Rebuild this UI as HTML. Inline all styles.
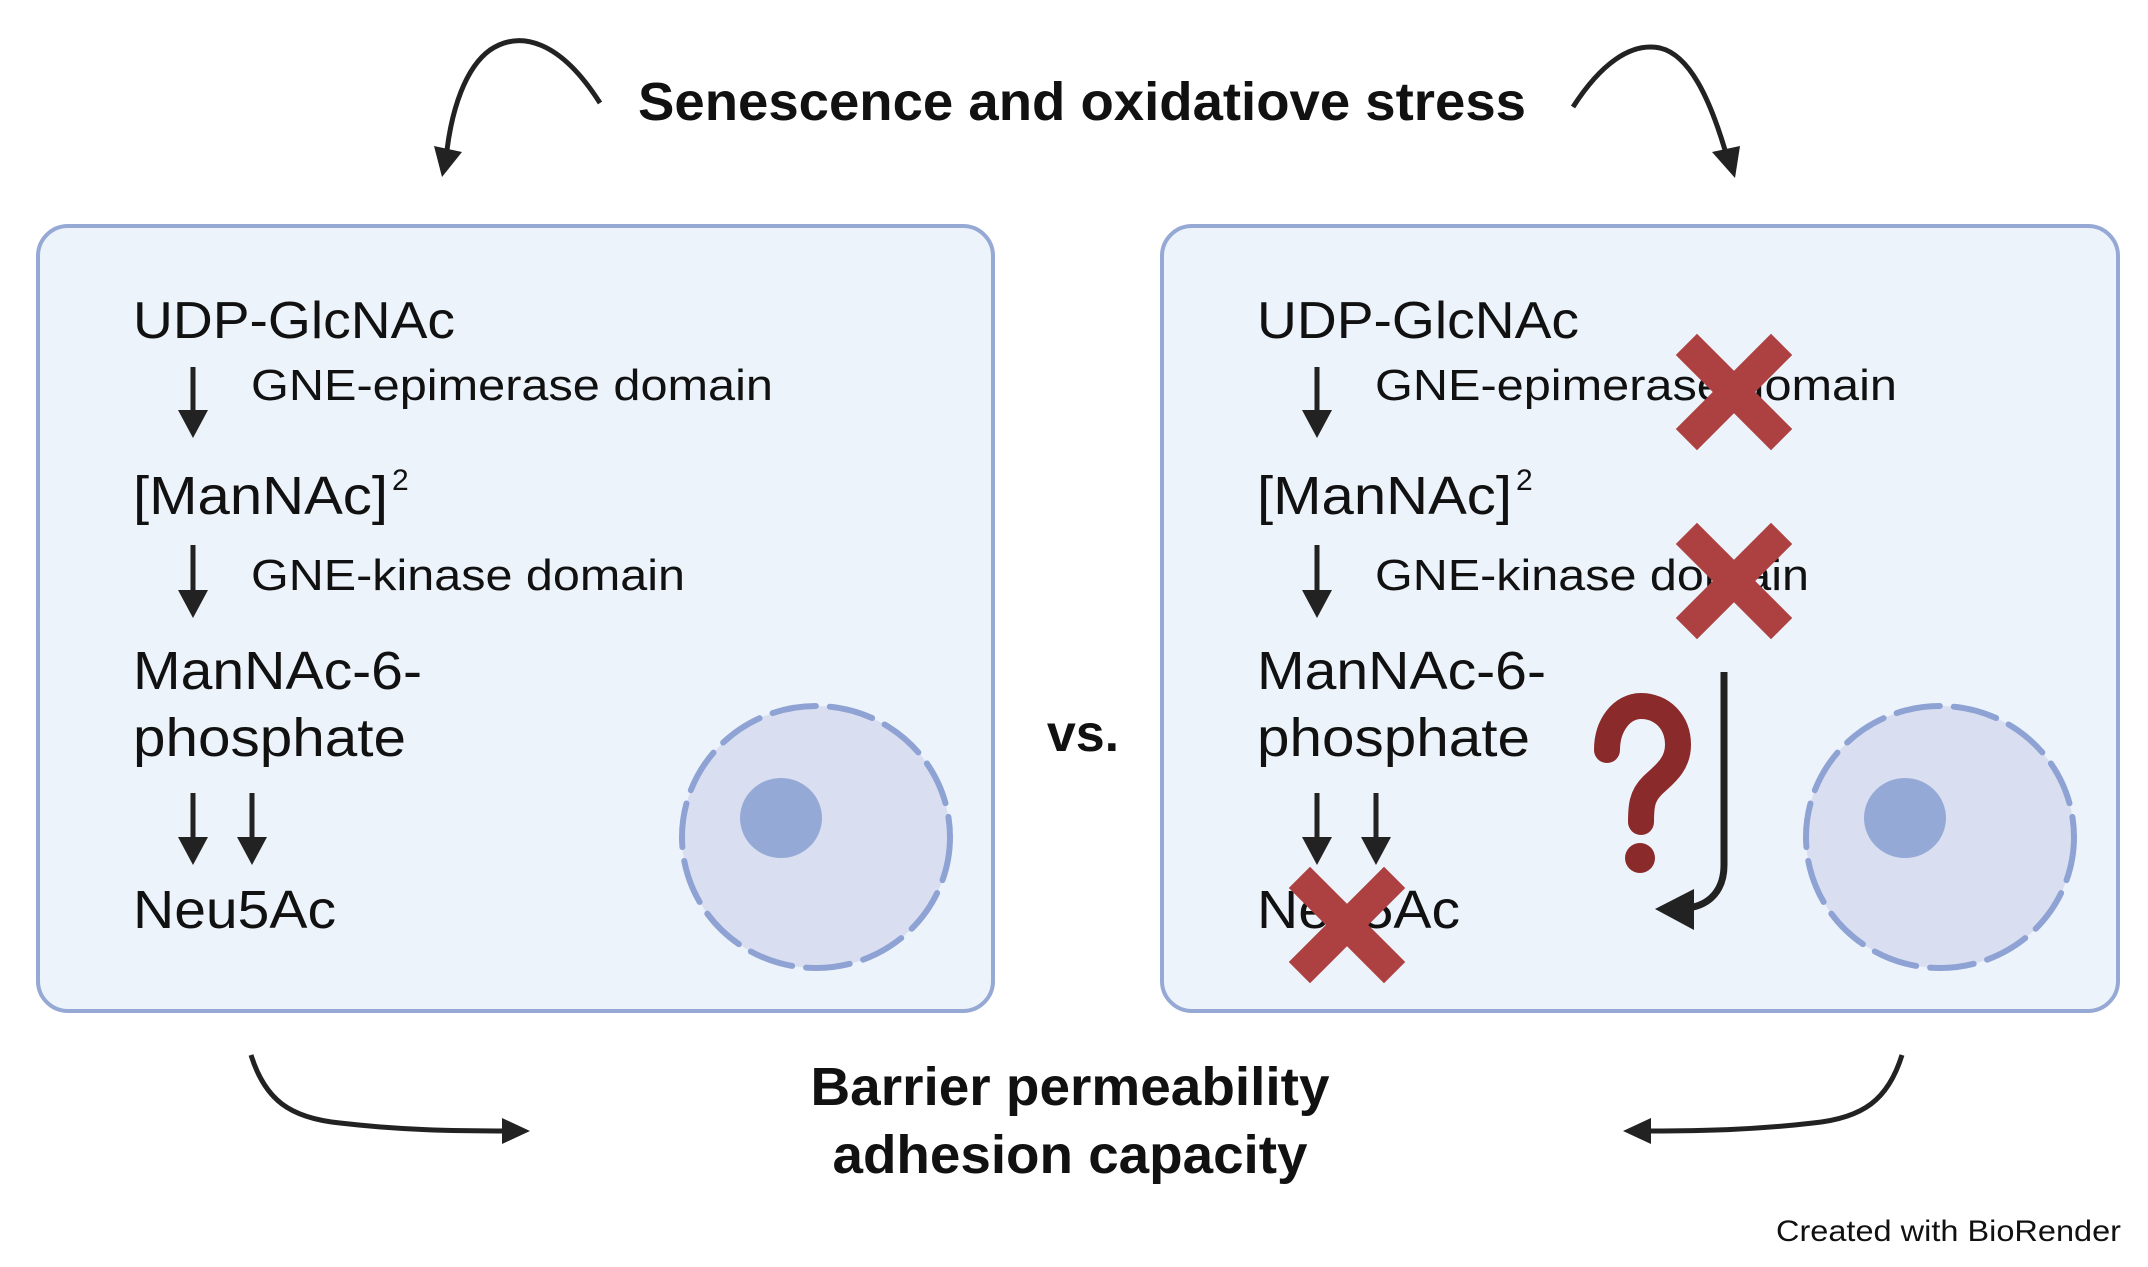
<!DOCTYPE html>
<html><head><meta charset="utf-8"><style>
html,body{margin:0;padding:0;background:#fff;}
svg{display:block;}
text{font-family:"Liberation Sans",sans-serif;fill:#111;}
</style></head><body>
<svg width="2148" height="1267" viewBox="0 0 2148 1267" xmlns="http://www.w3.org/2000/svg">
<rect x="38" y="226" width="955" height="785" rx="30" fill="#edf3fb" stroke="#95a9d4" stroke-width="4"/>
<rect x="1162" y="226" width="956" height="785" rx="30" fill="#edf3fb" stroke="#95a9d4" stroke-width="4"/>

<text x="1082" y="120" text-anchor="middle" font-size="54" font-weight="bold" textLength="888" lengthAdjust="spacingAndGlyphs">Senescence and oxidatiove stress</text>
<text x="1083" y="751" text-anchor="middle" font-size="52" font-weight="bold">vs.</text>
<text x="1070" y="1105" text-anchor="middle" font-size="54" font-weight="bold" textLength="519" lengthAdjust="spacingAndGlyphs">Barrier permeability</text>
<text x="1070" y="1173" text-anchor="middle" font-size="54" font-weight="bold" textLength="475" lengthAdjust="spacingAndGlyphs">adhesion capacity</text>
<text x="2121" y="1241" text-anchor="end" font-size="30" textLength="345" lengthAdjust="spacingAndGlyphs">Created with BioRender</text>

<path d="M600,103 C560,40 520,30 490,50 C465,68 452,110 447,150" fill="none" stroke="#222" stroke-width="5"/>
<polygon points="434,146 462,152 442,177" fill="#222"/>
<path d="M1573,107 C1600,65 1630,42 1660,48 C1690,55 1710,100 1725,150" fill="none" stroke="#222" stroke-width="5"/>
<polygon points="1712,152 1740,146 1735,178" fill="#222"/>
<path d="M251,1055 C265,1100 290,1118 340,1123 C400,1130 450,1131 510,1131" fill="none" stroke="#222" stroke-width="5"/>
<polygon points="502,1118 530,1131 502,1144" fill="#222"/>
<path d="M1902,1055 C1888,1100 1863,1118 1813,1123 C1753,1130 1703,1131 1643,1131" fill="none" stroke="#222" stroke-width="5"/>
<polygon points="1651,1118 1623,1131 1651,1144" fill="#222"/>

<g id="path">
<text x="133" y="338" font-size="52" textLength="322" lengthAdjust="spacingAndGlyphs">UDP-GlcNAc</text>
<text x="251" y="400" font-size="44" textLength="522" lengthAdjust="spacingAndGlyphs">GNE-epimerase domain</text>
<text x="133" y="514" font-size="54" textLength="255" lengthAdjust="spacingAndGlyphs">[ManNAc]</text>
<text x="392" y="490" font-size="30">2</text>
<text x="251" y="590" font-size="44" textLength="434" lengthAdjust="spacingAndGlyphs">GNE-kinase domain</text>
<text x="133" y="689" font-size="54" textLength="289" lengthAdjust="spacingAndGlyphs">ManNAc-6-</text>
<text x="133" y="756" font-size="54" textLength="273" lengthAdjust="spacingAndGlyphs">phosphate</text>
<text x="133" y="928" font-size="54" textLength="203" lengthAdjust="spacingAndGlyphs">Neu5Ac</text>
<g fill="#222" stroke="#222">
<line x1="193" y1="367" x2="193" y2="415" stroke-width="5"/><polygon points="178,410 208,410 193,438" stroke="none"/>
<line x1="193" y1="545" x2="193" y2="595" stroke-width="5"/><polygon points="178,590 208,590 193,618" stroke="none"/>
<line x1="193" y1="793" x2="193" y2="842" stroke-width="5"/><polygon points="178,837 208,837 193,865" stroke="none"/>
<line x1="252" y1="793" x2="252" y2="842" stroke-width="5"/><polygon points="237,837 267,837 252,865" stroke="none"/>
</g>
</g>
<ellipse cx="816" cy="837" rx="134" ry="131" fill="#d9dff0" stroke="#8ea3d4" stroke-width="6" stroke-dasharray="44 14" stroke-linecap="round"/>
<ellipse cx="781" cy="818" rx="41" ry="40" fill="#95a9d6"/>

<use href="#path" x="1124" y="0"/>
<ellipse cx="1940" cy="837" rx="134" ry="131" fill="#d9dff0" stroke="#8ea3d4" stroke-width="6" stroke-dasharray="44 14" stroke-linecap="round"/>
<ellipse cx="1905" cy="818" rx="41" ry="40" fill="#95a9d6"/>

<g stroke="#ad4141" stroke-width="30" stroke-linecap="square">
<line x1="1697" y1="355" x2="1771" y2="429"/><line x1="1771" y1="355" x2="1697" y2="429"/>
<line x1="1697" y1="544" x2="1771" y2="618"/><line x1="1771" y1="544" x2="1697" y2="618"/>
<line x1="1310" y1="888" x2="1384" y2="962"/><line x1="1384" y1="888" x2="1310" y2="962"/>
</g>
<path d="M1607,750 C1607,725 1622,706 1641,706 C1662,706 1678,722 1678,745 C1678,766 1662,776 1652,786 C1642,796 1641,806 1641,822" fill="none" stroke="#8b2a2a" stroke-width="26" stroke-linecap="round"/>
<circle cx="1640" cy="858" r="15" fill="#8b2a2a"/>
<path d="M1724,672 L1724,865 C1724,890 1710,905 1688,908" fill="none" stroke="#222" stroke-width="7"/>
<polygon points="1655,909 1694,889 1694,930" fill="#222"/>
</svg>
</body></html>
